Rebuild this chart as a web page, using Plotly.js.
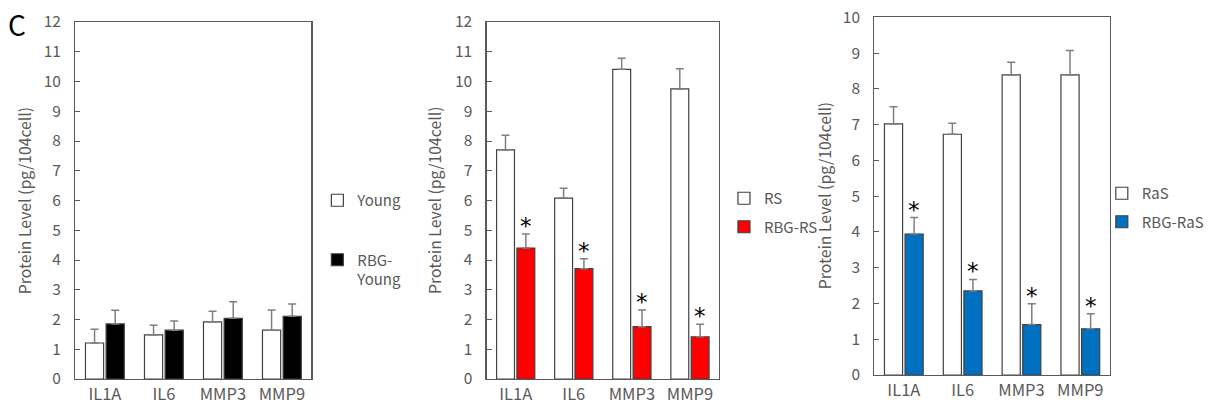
<!DOCTYPE html>
<html>
<head>
<meta charset="utf-8">
<script src="https://cdn.plot.ly/plotly-3.0.1.min.js"></script>
<style>html,body{margin:0;padding:0;background:#fff;}#chart{width:1209px;height:405px;}</style>
</head>
<body>
<div id="chart"></div>
<script>
// ---- data ----
const categories = ['IL1A', 'IL6', 'MMP3', 'MMP9'];

const young      = [1.21, 1.48, 1.92, 1.64];
const youngErr   = [0.46, 0.33, 0.36, 0.68];
const rbgYoung   = [1.85, 1.64, 2.04, 2.11];
const rbgYoungErr= [0.46, 0.31, 0.56, 0.41];

const rs         = [7.70, 6.08, 10.41, 9.75];
const rsErr      = [0.49, 0.33, 0.37, 0.68];
const rbgRs      = [4.40, 3.71, 1.76, 1.42];
const rbgRsErr   = [0.47, 0.33, 0.56, 0.42];

const ras        = [7.02, 6.73, 8.39, 8.39];
const rasErr     = [0.48, 0.31, 0.35, 0.68];
const rbgRas     = [3.94, 2.35, 1.41, 1.29];
const rbgRasErr  = [0.46, 0.32, 0.58, 0.42];

const sigRs  = [true, true, true, true];
const sigRas = [true, true, true, true];

const panelLabel = 'C';
const yTitle = 'Protein Level (pg/104cell)';

// ---- styling ----
const FONT = '"Noto Sans CJK JP", "Noto Sans", sans-serif';
const GRAY = '#595959';
const OUTLINE = '#404040';
const ERRC = '#7f7f7f';
const W = 1209, H = 405;
const BARGAP = 0.3;

const dom = {
  x1: [76 / W, 314 / W], x2: [490.7 / W, 725 / W], x3: [881.7 / W, 1119 / W],
  y12: [1 - 379 / H, 1 - 22 / H], y3: [1 - 375 / H, 1 - 17.3 / H]
};

function barTrace(name, vals, errs, fill, xa, ya, legend, group) {
  return {
    type: 'bar', name: name, x: categories, y: vals,
    xaxis: xa, yaxis: ya, legend: legend, legendgroup: group,
    marker: {color: fill, line: {color: OUTLINE, width: 1.2}},
    error_y: {type: 'data', symmetric: false, array: errs,
              arrayminus: errs.map(() => 0), color: ERRC, thickness: 1.5, width: 4},
    hoverinfo: 'x+y'
  };
}

const data = [
  barTrace('Young', young, youngErr, '#ffffff', 'x', 'y', 'legend', 'a'),
  barTrace('RBG-<br>Young', rbgYoung, rbgYoungErr, '#000000', 'x', 'y', 'legend', 'b'),
  barTrace('RS', rs, rsErr, '#ffffff', 'x2', 'y2', 'legend2', 'c'),
  barTrace('RBG-RS', rbgRs, rbgRsErr, '#ff0000', 'x2', 'y2', 'legend2', 'd'),
  barTrace('RaS', ras, rasErr, '#ffffff', 'x3', 'y3', 'legend3', 'e'),
  barTrace('RBG-RaS', rbgRas, rbgRasErr, '#0070c0', 'x3', 'y3', 'legend3', 'f')
];

function xAxis(domain, anchor) {
  return {
    domain: domain, anchor: anchor, type: 'category',
    showline: true, linecolor: GRAY, linewidth: 1.3, mirror: true,
    ticks: '', showgrid: false, zeroline: false, automargin: false,
    tickfont: {family: FONT, size: 16.5, color: GRAY}, ticklabelstandoff: 0
  };
}
function yAxis(domain, anchor, max) {
  return {
    domain: domain, anchor: anchor, range: [0, max], dtick: 1,
    showline: true, linecolor: GRAY, linewidth: 1.3, mirror: true,
    ticks: 'inside', ticklen: 5, tickcolor: GRAY, tickwidth: 1,
    showgrid: false, zeroline: false, automargin: false,
    tickfont: {family: FONT, size: 15.5, color: GRAY}, ticklabelstandoff: 10
  };
}

const annotations = [];
annotations.push({text: panelLabel, xref: 'paper', yref: 'paper', x: 17 / W, y: 1 - 24 / H,
  xanchor: 'center', yanchor: 'middle', showarrow: false,
  font: {family: FONT, size: 28, color: '#000'}});

[[25, (22 + 379) / 2], [438, (22 + 379) / 2], [831, (17.3 + 375) / 2]].forEach(p => {
  annotations.push({text: yTitle, xref: 'paper', yref: 'paper', x: p[0] / W, y: 1 - p[1] / H,
    xanchor: 'center', yanchor: 'middle', textangle: -90, showarrow: false,
    font: {family: FONT, size: 15.8, color: GRAY}});
});

function addStars(vals, errs, sig, xa, ya, domain) {
  const catW = (domain[1] - domain[0]) * W / categories.length;
  const shift = catW * (1 - BARGAP) / 4;
  categories.forEach((c, i) => {
    if (!sig[i]) return;
    annotations.push({text: '*', x: c, y: vals[i] + errs[i], xref: xa, yref: ya,
      xshift: shift, yshift: 8, xanchor: 'center', yanchor: 'middle', showarrow: false,
      font: {family: '"DejaVu Sans", sans-serif', size: 23, color: '#000'}});
  });
}
addStars(rbgRs, rbgRsErr, sigRs, 'x2', 'y2', dom.x2);
addStars(rbgRas, rbgRasErr, sigRas, 'x3', 'y3', dom.x3);

function legendCfg(x, y, gap) {
  return {x: x / W, y: 1 - y / H, xanchor: 'left', yanchor: 'top',
    font: {family: FONT, size: 15, color: GRAY}, bgcolor: 'rgba(0,0,0,0)',
    tracegroupgap: gap, itemwidth: 30, valign: 'top', traceorder: 'grouped'};
}

const layout = {
  width: W, height: H,
  margin: {l: 0, r: 0, t: 0, b: 0, pad: 0},
  paper_bgcolor: '#fff', plot_bgcolor: '#fff',
  barmode: 'group', bargap: BARGAP, bargroupgap: 0.12,
  showlegend: true,
  xaxis: xAxis(dom.x1, 'y'), yaxis: yAxis(dom.y12, 'x', 12),
  xaxis2: xAxis(dom.x2, 'y2'), yaxis2: yAxis(dom.y12, 'x2', 12),
  xaxis3: xAxis(dom.x3, 'y3'), yaxis3: yAxis(dom.y3, 'x3', 10),
  legend: legendCfg(320, 184, 37),
  legend2: legendCfg(730, 182, 6),
  legend3: legendCfg(1111, 177, 6),
  annotations: annotations
};

Plotly.newPlot('chart', data, layout, {displayModeBar: false, staticPlot: true});
</script>
</body>
</html>
